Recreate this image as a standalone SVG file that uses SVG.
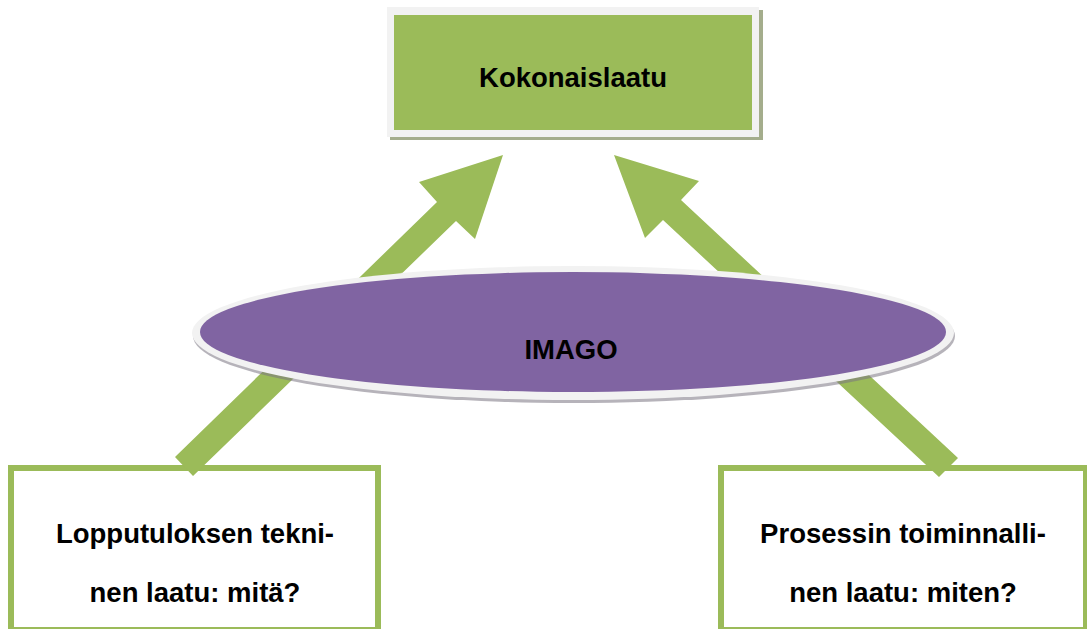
<svg xmlns="http://www.w3.org/2000/svg" width="1087" height="629" viewBox="0 0 1087 629">
<style>
.lbl{font-family:"Liberation Sans",Arial,sans-serif;font-weight:bold;font-size:27.5px;fill:#000;text-anchor:middle}
.box{fill:#fff;stroke:#9BBB59;stroke-width:6}
.arrow{fill:#9BBB59}
</style>
<rect width="1087" height="629" fill="#fff"/>
<g id="node-left">
<rect class="box" x="11" y="468" width="367" height="162"/>
<text class="lbl" x="195" y="543">Lopputuloksen tekni-</text>
<text class="lbl" x="195" y="602">nen laatu: mitä?</text>
</g>
<g id="node-right">
<rect class="box" x="721" y="468" width="365" height="162"/>
<text class="lbl" x="903" y="543">Prosessin toiminnalli-</text>
<text class="lbl" x="903" y="602">nen laatu: miten?</text>
</g>
<g id="connectors">
<polygon class="arrow" points="503,155 475,239 456,221 193,476 175,457 437,202 419,182"/>
<polygon class="arrow" points="614,155 699,181 681,200 958,458 939,477 663,220 645,238"/>
</g>
<g id="node-imago">
<ellipse cx="574" cy="336" rx="381" ry="67" fill="#7a7582" opacity="0.55"/>
<ellipse cx="573" cy="333" rx="381" ry="67" fill="#f2f2f2"/>
<ellipse cx="573" cy="332" rx="373" ry="60" fill="#8064A2"/>
<text class="lbl" x="571" y="359">IMAGO</text>
</g>
<g id="node-top">
<rect x="390" y="10" width="373" height="130" fill="#a4ad8c"/>
<rect x="387" y="7" width="372" height="130" fill="#f2f2f2"/>
<rect x="394" y="15" width="358" height="115" fill="#9BBB59"/>
<text class="lbl" x="573" y="87">Kokonaislaatu</text>
</g>
</svg>
